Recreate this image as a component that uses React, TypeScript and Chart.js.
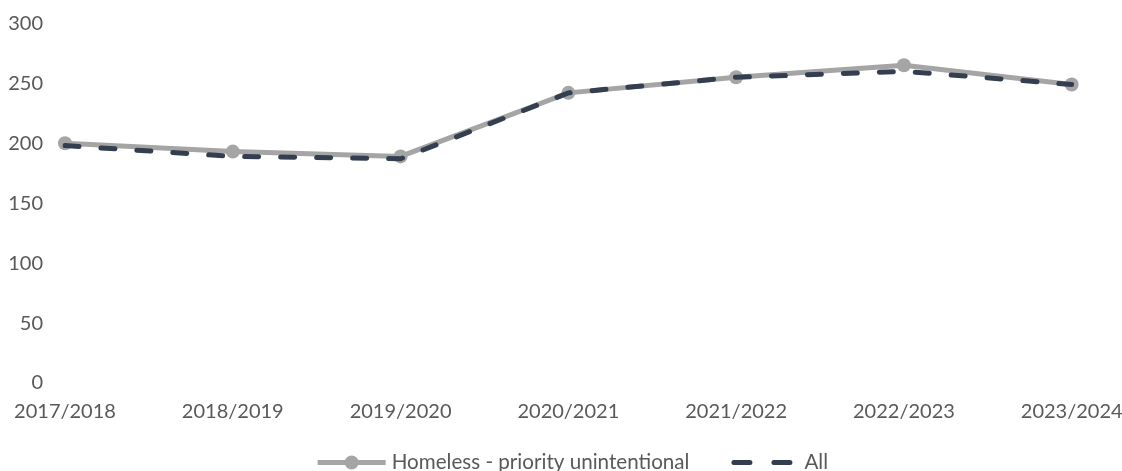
import React, { useEffect, useRef } from "react";
import { Chart, registerables } from "chart.js";

Chart.register(...registerables);

const categories = ["2017/2018", "2018/2019", "2019/2020", "2020/2021", "2021/2022", "2022/2023", "2023/2024"];
const homelessValues = [200, 193, 189, 242, 255, 265, 249];
const allValues = [198, 189, 187, 242, 255, 260, 249];
const yTicks = [0, 50, 100, 150, 200, 250, 300];
const seriesNames = ["Homeless - priority unintentional", "All"];

const GRAY = "#A5A5A5";
const NAVY = "#333F50";
const TEXT = "#595959";
const FONT = "Lato";

const legendPlugin = {
  id: "customLegend",
  afterDraw(chart: any) {
    const ctx = chart.ctx as CanvasRenderingContext2D;
    ctx.save();
    ctx.font = `20.6px ${FONT}`;
    ctx.fillStyle = TEXT;
    ctx.textBaseline = "alphabetic";
    const baseline = 468.5;
    const lineY = 462.5;
    const w1 = 68, g1 = 6, gapItems = 42, w2 = 61, g2 = 12;
    const t1 = ctx.measureText(seriesNames[0]).width;
    const t2 = ctx.measureText(seriesNames[1]).width;
    const total = w1 + g1 + t1 + gapItems + w2 + g2 + t2;
    const center = (chart.chartArea.left + chart.chartArea.right) / 2 + 4.5;
    let x = center - total / 2;
    // item 1: solid gray line with a circle marker
    ctx.strokeStyle = GRAY;
    ctx.lineWidth = 5;
    ctx.beginPath();
    ctx.moveTo(x, lineY);
    ctx.lineTo(x + w1, lineY);
    ctx.stroke();
    ctx.fillStyle = GRAY;
    ctx.beginPath();
    ctx.arc(x + w1 / 2, lineY, 7, 0, Math.PI * 2);
    ctx.fill();
    x += w1 + g1;
    ctx.fillStyle = TEXT;
    ctx.fillText(seriesNames[0], x, baseline);
    x += t1 + gapItems;
    // item 2: dashed navy line
    ctx.strokeStyle = NAVY;
    ctx.lineWidth = 5;
    ctx.lineCap = "round";
    ctx.setLineDash([16, 24]);
    ctx.beginPath();
    ctx.moveTo(x + 2.5, lineY);
    ctx.lineTo(x + w2 - 2.5, lineY);
    ctx.stroke();
    ctx.setLineDash([]);
    x += w2 + g2;
    ctx.fillText(seriesNames[1], x, baseline);
    ctx.restore();
  },
};

export default function App() {
  const canvasRef = useRef<HTMLCanvasElement | null>(null);

  useEffect(() => {
    if (!canvasRef.current) return;
    const chart = new Chart(canvasRef.current, {
      type: "line",
      data: {
        labels: categories,
        datasets: [
          {
            label: seriesNames[0],
            data: homelessValues,
            borderColor: GRAY,
            backgroundColor: GRAY,
            borderWidth: 5,
            pointRadius: 7,
            pointBackgroundColor: GRAY,
            pointBorderWidth: 0,
            tension: 0,
            order: 1,
          },
          {
            label: seriesNames[1],
            data: allValues,
            borderColor: NAVY,
            backgroundColor: NAVY,
            borderWidth: 5,
            borderDash: [14, 22],
            borderCapStyle: "round",
            pointRadius: 0,
            tension: 0,
            order: 0,
          },
        ],
      },
      options: {
        animation: false,
        responsive: true,
        maintainAspectRatio: false,
        layout: { padding: { top: 23.3, left: 0, right: 50.3, bottom: 40 } },
        plugins: {
          legend: { display: false },
          tooltip: { enabled: false },
        },
        scales: {
          x: {
            grid: { display: false, drawTicks: false },
            border: { display: false },
            ticks: {
              color: TEXT,
              font: { family: FONT, size: 20 },
              padding: 17,
              maxRotation: 0,
              autoSkip: false,
            },
            afterFit: (scale: any) => {
              scale.height = 48;
              scale.paddingLeft = 0;
              scale.paddingRight = 0;
            },
          },
          y: {
            min: 0,
            max: 300,
            afterBuildTicks: (scale: any) => {
              scale.ticks = yTicks.map((v) => ({ value: v }));
            },
            grid: { display: false, drawTicks: false },
            border: { display: false },
            ticks: {
              color: TEXT,
              font: { family: FONT, size: 20 },
              padding: 22,
            },
            afterFit: (scale: any) => {
              scale.width = 65;
              scale.paddingTop = 0;
              scale.paddingBottom = 0;
            },
          },
        },
      },
      plugins: [legendPlugin],
    });
    return () => chart.destroy();
  }, []);

  return (
    <div style={{ position: "absolute", left: 0, top: 0, width: 1122, height: 471, background: "#fff" }}>
      <canvas ref={canvasRef} />
    </div>
  );
}
